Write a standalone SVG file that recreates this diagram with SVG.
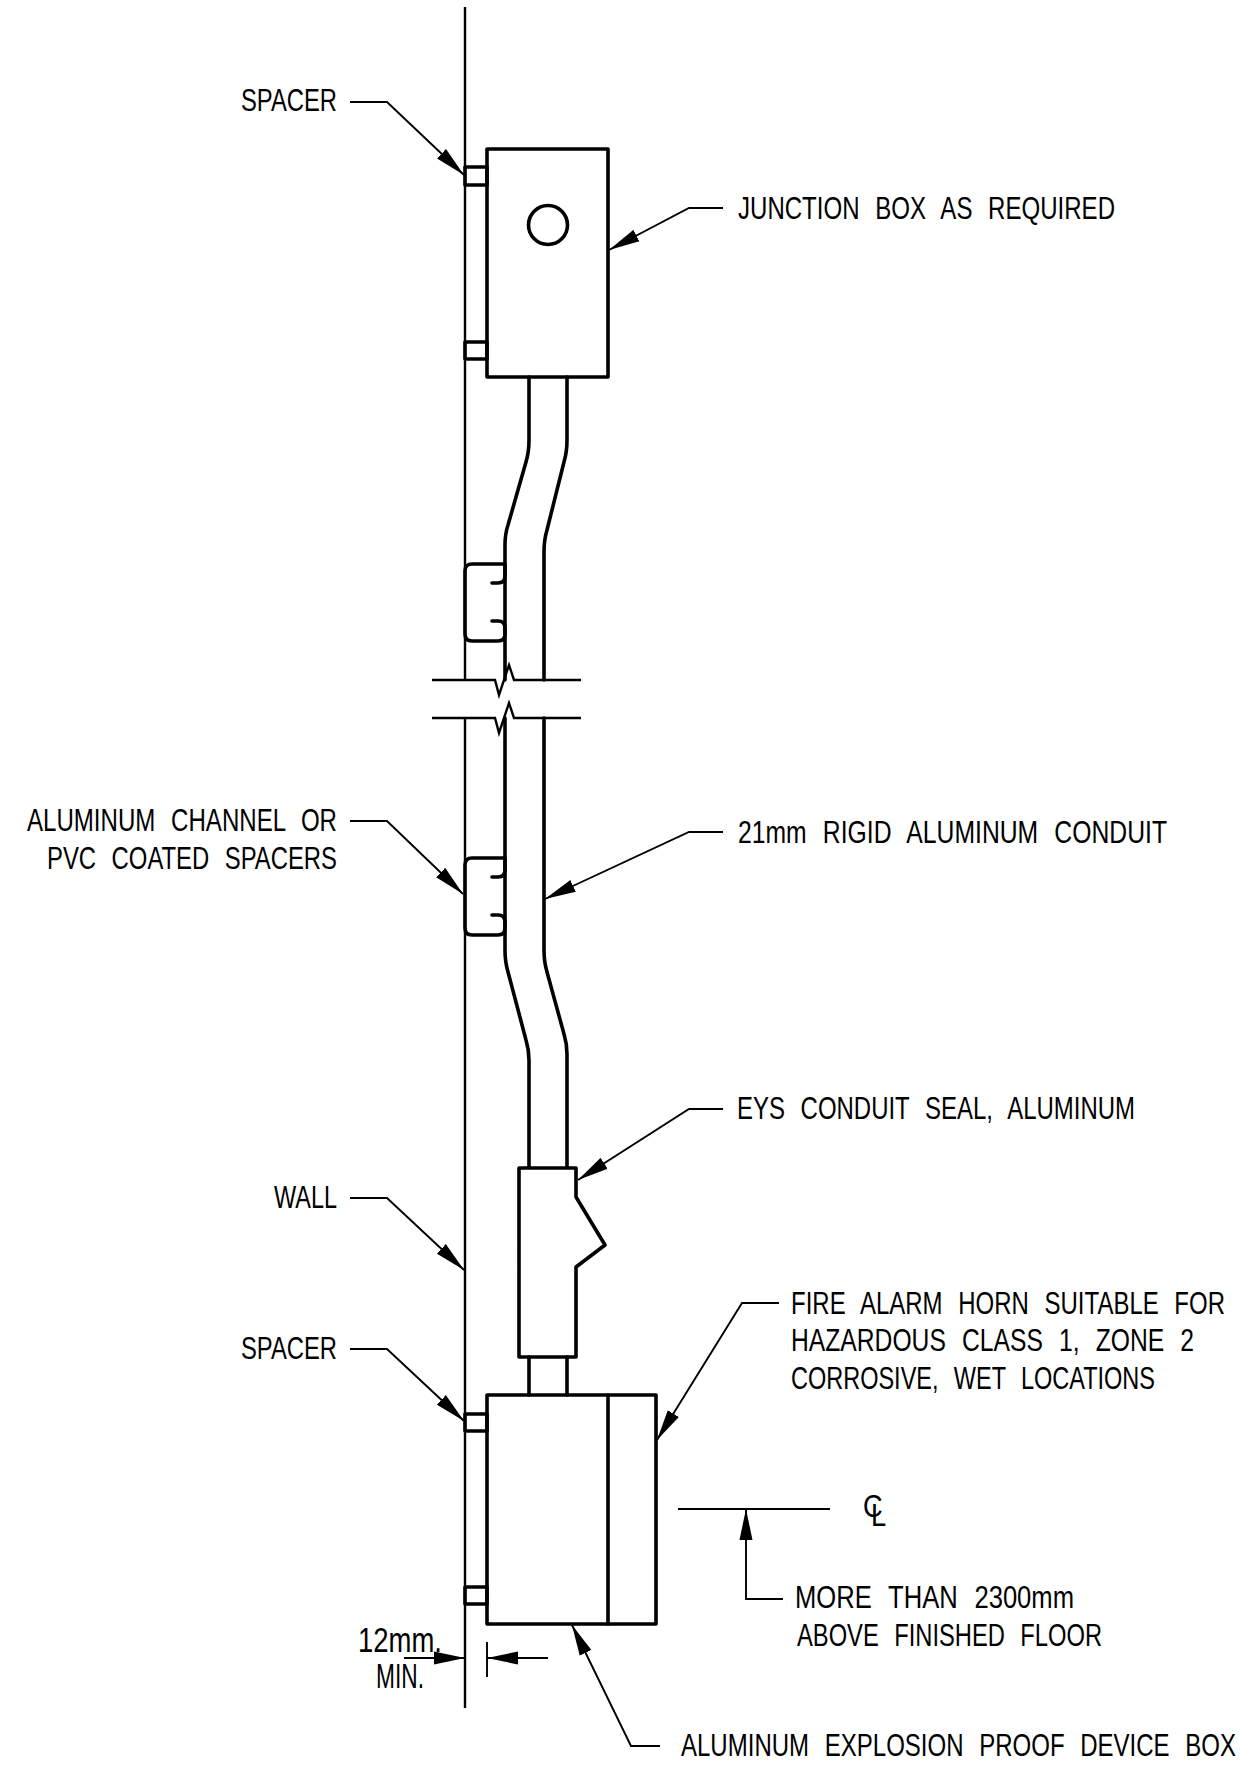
<svg xmlns="http://www.w3.org/2000/svg" width="1240" height="1770" viewBox="0 0 1240 1770">
<defs>
<marker id="ah" markerUnits="userSpaceOnUse" markerWidth="32" markerHeight="14" refX="31" refY="7" orient="auto"><path d="M0,0.5 L31,7 L0,13.5 Z" fill="#000"/></marker>
</defs>
<style>
.h{fill:none;stroke:#000;stroke-width:3.6;stroke-linejoin:round;stroke-linecap:round}
.m{fill:none;stroke:#000;stroke-width:2.4}
.l{fill:none;stroke:#000;stroke-width:1.9;stroke-linejoin:miter}
text{font-family:"Liberation Sans Narrow","Liberation Sans",Arial,sans-serif;font-size:32px;fill:#000;word-spacing:12px}
</style>
<rect width="1240" height="1770" fill="#fff"/>
<g id="wall"><path class="m" d="M465,7V680M465,718V1708"/></g>
<g id="junction-box"><rect class="h" x="487" y="149" width="121" height="228"/><circle class="h" cx="548" cy="225" r="19.5"/></g>
<g id="spacers-top"><rect class="h" x="465" y="167" width="22" height="18"/><rect class="h" x="465" y="342" width="22" height="17"/></g>
<g id="conduit-upper"><path class="h" d="M529,377V440Q529,452 526,462L508,525Q505,534 505,545V680"/><path class="h" d="M567,377V440Q567,452 564,462L547,530Q544,540 544,552V680"/></g>
<g id="channel-upper"><path class="h" d="M505,564H472Q465,564 465,571V634Q465,641 472,641H498Q505,641 505,634V628Q505,621 498,621H492M505,564V576Q505,583 498,583H492"/></g>
<g id="break-lines"><path class="m" d="M432,680H495L499,695L509,665L514,680H581"/><path class="m" d="M432,718H495L499,733L509,703L514,718H581"/></g>
<g id="conduit-lower"><path class="h" d="M505,718V950Q505,962 508,972L526,1040Q529,1050 529,1060V1167"/><path class="h" d="M544,718V950Q544,962 547,972L564,1034Q567,1044 567,1054V1167"/></g>
<g id="channel-lower"><path class="h" d="M505,858H472Q465,858 465,865V928Q465,935 472,935H498Q505,935 505,928V922Q505,915 498,915H492M505,858V870Q505,877 498,877H492"/></g>
<g id="conduit-seal"><path class="h" d="M519,1168H576V1197L605,1245L576,1267V1357H519Z"/><path class="h" d="M529,1357V1395M567,1357V1395"/></g>
<g id="device-box"><rect class="h" x="487" y="1395" width="169" height="229"/><path class="h" d="M608,1395V1624"/></g>
<g id="spacers-bottom"><rect class="h" x="465" y="1414" width="22" height="17"/><rect class="h" x="465" y="1587" width="22" height="17"/></g>
<g id="connectors">
<path class="l" marker-end="url(#ah)" d="M350,102H387L464,175"/>
<path class="l" marker-end="url(#ah)" d="M723,208H689L609,250"/>
<path class="l" marker-end="url(#ah)" d="M350,821H387L463,894"/>
<path class="l" marker-end="url(#ah)" d="M723,832H689L545,899"/>
<path class="l" marker-end="url(#ah)" d="M723,1109H689L578,1180"/>
<path class="l" marker-end="url(#ah)" d="M350,1198H387L464,1270"/>
<path class="l" marker-end="url(#ah)" d="M350,1349H387L464,1421"/>
<path class="l" marker-end="url(#ah)" d="M779,1303H742L657,1440"/>
<path class="l" marker-end="url(#ah)" d="M783,1599H746V1509"/>
<path class="l" d="M678,1509H830"/>
<path class="l" marker-end="url(#ah)" d="M660,1746H631L572,1625"/>
<path class="l" marker-end="url(#ah)" d="M404,1658H465"/>
<path class="l" marker-end="url(#ah)" d="M548,1658H487"/>
<path class="l" d="M487,1642V1677"/>
</g>
<g id="labels">
<text x="241" y="111" textLength="96" lengthAdjust="spacingAndGlyphs">SPACER</text>
<text x="738" y="219" textLength="377" lengthAdjust="spacingAndGlyphs">JUNCTION BOX AS REQUIRED</text>
<text x="27" y="831" textLength="310" lengthAdjust="spacingAndGlyphs">ALUMINUM CHANNEL OR</text>
<text x="47" y="869" textLength="290" lengthAdjust="spacingAndGlyphs">PVC COATED SPACERS</text>
<text x="738" y="843" textLength="429" lengthAdjust="spacingAndGlyphs">21mm RIGID ALUMINUM CONDUIT</text>
<text x="737" y="1119" textLength="398" lengthAdjust="spacingAndGlyphs">EYS CONDUIT SEAL, ALUMINUM</text>
<text x="274" y="1208" textLength="63" lengthAdjust="spacingAndGlyphs">WALL</text>
<text x="241" y="1359" textLength="96" lengthAdjust="spacingAndGlyphs">SPACER</text>
<text x="791" y="1314" textLength="434" lengthAdjust="spacingAndGlyphs">FIRE ALARM HORN SUITABLE FOR</text>
<text x="791" y="1351" textLength="403" lengthAdjust="spacingAndGlyphs">HAZARDOUS CLASS 1, ZONE 2</text>
<text x="791" y="1389" textLength="364" lengthAdjust="spacingAndGlyphs">CORROSIVE, WET LOCATIONS</text>
<text transform="translate(863,0) scale(0.85,1)" x="0 9.5" y="1517 1526">CL</text>
<text x="795" y="1608" textLength="279" lengthAdjust="spacingAndGlyphs">MORE THAN 2300mm</text>
<text x="797" y="1646" textLength="305" lengthAdjust="spacingAndGlyphs">ABOVE FINISHED FLOOR</text>
<text x="358" y="1652" textLength="84" lengthAdjust="spacingAndGlyphs" style="font-size:35px">12mm.</text>
<text x="376" y="1688" textLength="48" lengthAdjust="spacingAndGlyphs" style="font-size:35px">MIN.</text>
<text x="681" y="1756" textLength="555" lengthAdjust="spacingAndGlyphs">ALUMINUM EXPLOSION PROOF DEVICE BOX</text>
</g>
</svg>
